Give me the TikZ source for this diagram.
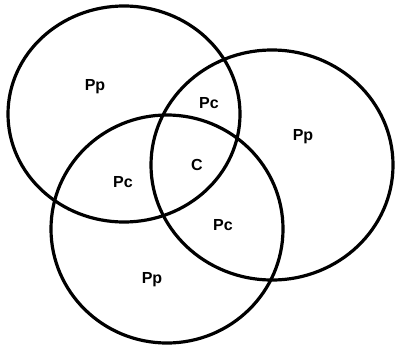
\documentclass[tikz,border=0pt]{standalone}
\usepackage{fontspec}
\setmainfont{Liberation Sans}
\begin{document}
\begin{tikzpicture}[x=1pt,y=-1pt,
  ring/.style={draw=black,line width=3.2pt},
  lbl/.style={font=\bfseries\fontsize{16}{19}\selectfont,inner sep=0pt}]
\useasboundingbox (0,0) rectangle (395,345);
\draw[ring] (124,114) ellipse [x radius=116, y radius=108];
\draw[ring] (272,165) ellipse [x radius=121, y radius=115];
\draw[ring] (167,229) ellipse [x radius=116, y radius=114];
\node[lbl] (pp1) at (95,87) {Pp};
\node[lbl] (pc1) at (209,103) {Pc};
\node[lbl] (pp2) at (303,137) {Pp};
\node[lbl] (c) at (197,165) {C};
\node[lbl] (pc2) at (123,182) {Pc};
\node[lbl] (pc3) at (223,225) {Pc};
\node[lbl] (pp3) at (152,280) {Pp};
\end{tikzpicture}
\end{document}
